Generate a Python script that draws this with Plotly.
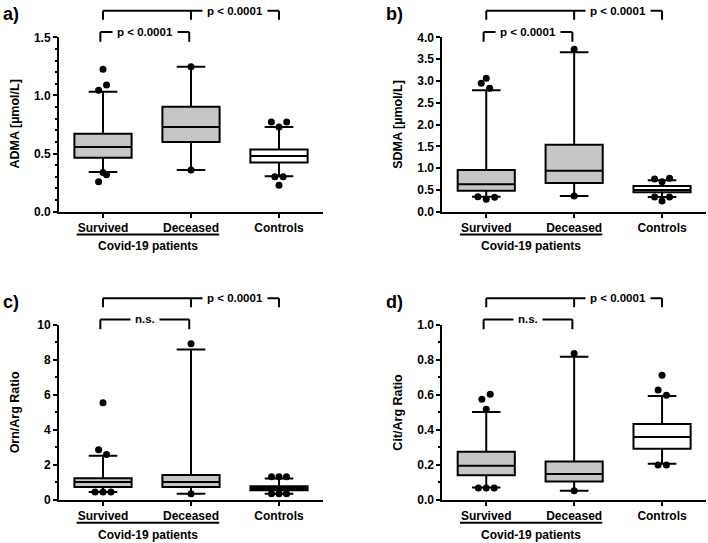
import plotly.graph_objects as go

# categories
groups = ["Survived", "Deceased", "Controls"]

# a) ADMA [umol/L]
adma_q1 = [0.465, 0.599, 0.424]
adma_median = [0.557, 0.728, 0.479]
adma_q3 = [0.671, 0.903, 0.536]
adma_low = [0.341, 0.358, 0.304]
adma_high = [1.032, 1.247, 0.728]
adma_out_survived = [1.225, 1.09, 1.045, 0.338, 0.318, 0.258]
adma_out_deceased = [1.247, 0.358]
adma_out_controls = [0.771, 0.771, 0.728, 0.301, 0.301, 0.227]

# b) SDMA [umol/L]
sdma_q1 = [0.482, 0.658, 0.444]
sdma_median = [0.627, 0.941, 0.497]
sdma_q3 = [0.956, 1.537, 0.589]
sdma_low = [0.344, 0.359, 0.337]
sdma_high = [2.784, 3.656, 0.719]
sdma_out_survived = [3.06, 2.945, 2.83, 0.344, 0.283, 0.329]
sdma_out_deceased = [3.725, 0.359]
sdma_out_controls = [0.75, 0.765, 0.688, 0.337, 0.337, 0.245]

# c) Orn/Arg ratio
orn_q1 = [0.74, 0.74, 0.55]
orn_median = [1.03, 1.03, 0.67]
orn_q3 = [1.24, 1.43, 0.78]
orn_low = [0.46, 0.36, 0.36]
orn_high = [2.53, 8.59, 1.22]
orn_out_survived = [5.55, 2.87, 2.60, 0.46, 0.46, 0.46]
orn_out_deceased = [8.92, 0.36]
orn_out_controls = [1.33, 1.33, 1.33, 0.36, 0.36, 0.36]

# d) Cit/Arg ratio
cit_q1 = [0.141, 0.105, 0.293]
cit_median = [0.196, 0.148, 0.359]
cit_q3 = [0.275, 0.219, 0.433]
cit_low = [0.072, 0.053, 0.207]
cit_high = [0.502, 0.817, 0.593]
cit_out_survived = [0.603, 0.575, 0.517, 0.068, 0.068, 0.068]
cit_out_deceased = [0.835, 0.053]
cit_out_controls = [0.711, 0.627, 0.597, 0.2, 0.2]

# horizontal spread of the dots (column scatter), in category units
shift_a = [[0, 0.04, -0.05, 0, 0.04, -0.05], [0, 0], [-0.087, 0.087, 0, -0.047, 0.047, 0]]
shift_b = [[0, -0.057, 0.038, -0.095, 0, 0.095], [0, 0], [-0.085, 0.085, 0, -0.085, 0.085, 0]]
shift_c = [[0, -0.05, 0.04, -0.09, 0, 0.09], [0, 0], [-0.085, 0, 0.085, -0.085, 0, 0.085]]
shift_d = [[0.045, -0.05, 0, -0.09, 0, 0.09], [0, 0], [0, -0.045, 0.05, -0.045, 0.05]]

FONT = "Liberation Sans, Arial, sans-serif"
W, H = 708, 543
FILLS = ["#c6c6c6", "#c6c6c6", "#ffffff"]

# panel geometry in pixels: (left, right, top, bottom)
panels = [
    dict(label="a)", title="ADMA [µmol/L]", box=(59, 323, 37.3, 211.7), rng=[0, 1.5], dtick=0.5, minor=0.1,
         fmt=".1f", stats=(adma_q1, adma_median, adma_q3, adma_low, adma_high),
         outs=(adma_out_survived, adma_out_deceased, adma_out_controls), shifts=shift_a,
         p_low="p < 0.0001", p_top="p < 0.0001"),
    dict(label="b)", title="SDMA [µmol/L]", box=(442.3, 706, 37.3, 211.7), rng=[0, 4], dtick=0.5, minor=None,
         fmt=".1f", stats=(sdma_q1, sdma_median, sdma_q3, sdma_low, sdma_high),
         outs=(sdma_out_survived, sdma_out_deceased, sdma_out_controls), shifts=shift_b,
         p_low="p < 0.0001", p_top="p < 0.0001"),
    dict(label="c)", title="Orn/Arg Ratio", box=(59, 323, 324.7, 500), rng=[0, 10], dtick=2, minor=1,
         fmt="d", stats=(orn_q1, orn_median, orn_q3, orn_low, orn_high),
         outs=(orn_out_survived, orn_out_deceased, orn_out_controls), shifts=shift_c,
         p_low="n.s.", p_top="p < 0.0001"),
    dict(label="d)", title="Cit/Arg Ratio", box=(442.3, 706, 324.7, 500), rng=[0, 1], dtick=0.2, minor=0.1,
         fmt=".1f", stats=(cit_q1, cit_median, cit_q3, cit_low, cit_high),
         outs=(cit_out_survived, cit_out_deceased, cit_out_controls), shifts=shift_d,
         p_low="n.s.", p_top="p < 0.0001"),
]


def py(pix):
    return 1 - pix / H


def label(text, x, y, size=12, xref="paper", **kw):
    return dict(text=text, xref=xref, yref="paper", x=x, y=y, showarrow=False,
                xanchor="center", yanchor="middle",
                font=dict(family=FONT, size=size, color="black", weight="bold"), **kw)


fig = go.Figure()
shapes = []
annotations = []
line = dict(color="black", width=2)

for k, p in enumerate(panels):
    n = "" if k == 0 else str(k + 1)
    xa, ya = "x" + n, "y" + n
    left, right, top, bottom = p["box"]
    q1, med, q3, lo, hi = p["stats"]

    for i, g in enumerate(groups):
        fig.add_trace(go.Box(x=[i], q1=[q1[i]], median=[med[i]], q3=[q3[i]],
                             lowerfence=[lo[i]], upperfence=[hi[i]],
                             width=0.65, whiskerwidth=0.5, boxpoints=False,
                             fillcolor=FILLS[i], line=dict(color="black", width=2),
                             xaxis=xa, yaxis=ya, showlegend=False, hoverinfo="skip"))
        vals = p["outs"][i]
        fig.add_trace(go.Scatter(x=[i + s for s in p["shifts"][i]], y=vals, mode="markers",
                                 marker=dict(color="black", size=7), cliponaxis=False,
                                 xaxis=xa, yaxis=ya, showlegend=False, hoverinfo="skip"))

    xdom = [left / W, right / W]
    ydom = [py(bottom), py(top)]
    ax_common = dict(showgrid=False, zeroline=False, showline=True, linecolor="black", linewidth=2,
                     ticks="outside", tickcolor="black", tickwidth=2, automargin=False,
                     tickfont=dict(family=FONT, size=12, color="black", weight="bold"))
    xkw = dict(ax_common, domain=xdom, range=[-0.5, 2.5], tickvals=[0, 1, 2], ticktext=groups,
               ticklen=4, anchor=ya)
    ykw = dict(ax_common, domain=ydom, range=p["rng"], dtick=p["dtick"], tick0=0, ticklen=4,
               tickformat=p["fmt"], anchor=xa)
    if p["minor"]:
        ykw["minor"] = dict(dtick=p["minor"], ticks="outside", ticklen=2.5, tickwidth=1.5, tickcolor="black")
    fig.layout["xaxis" + n] = xkw
    fig.layout["yaxis" + n] = ykw

    # significance brackets (x in data units, y in paper)
    y_hi, y_hi_tick = py(top - 26.5), py(top - 17.5)
    y_lo, y_lo_tick = py(top - 5.3), py(top + 4.5)
    segs = [
        (0, y_hi, 2, y_hi), (0, y_hi, 0, y_hi_tick), (1, y_hi, 1, y_hi_tick), (2, y_hi, 2, y_hi_tick),
        (-0.03, y_lo, 0.98, y_lo), (-0.03, y_lo, -0.03, y_lo_tick), (0.98, y_lo, 0.98, y_lo_tick),
    ]
    for x0, y0, x1, y1 in segs:
        shapes.append(dict(type="line", xref=xa, yref="paper", x0=x0, y0=y0, x1=x1, y1=y1, line=line))
    annotations.append(label(p["p_top"], 1.5, y_hi, size=11.5, xref=xa, bgcolor="white", borderpad=4))
    annotations.append(label(p["p_low"], 0.48, y_lo, size=11.5, xref=xa, bgcolor="white", borderpad=4))

    # Covid-19 patients group line and label
    shapes.append(dict(type="line", xref=xa, yref="paper", x0=-0.3, x1=1.32,
                       y0=py(bottom + 22.7), y1=py(bottom + 22.7), line=line))
    annotations.append(label("Covid-19 patients", 0.51, py(bottom + 34.5), xref=xa))

    # y axis title
    annotations.append(label(p["title"], (left - 44) / W, (ydom[0] + ydom[1]) / 2, size=12.5,
                             textangle=-90))
    # panel label
    annotations.append(label(p["label"], (left - 48) / W if left > 100 else 11 / W, py(top - 23), size=18))

fig.update_layout(width=W, height=H, margin=dict(l=0, r=0, t=0, b=0, autoexpand=False),
                  paper_bgcolor="white", plot_bgcolor="white", boxmode="overlay",
                  shapes=shapes, annotations=annotations)

fig.write_html("out.html", config={"displayModeBar": False},
               post_script="document.body.style.margin='0';")
